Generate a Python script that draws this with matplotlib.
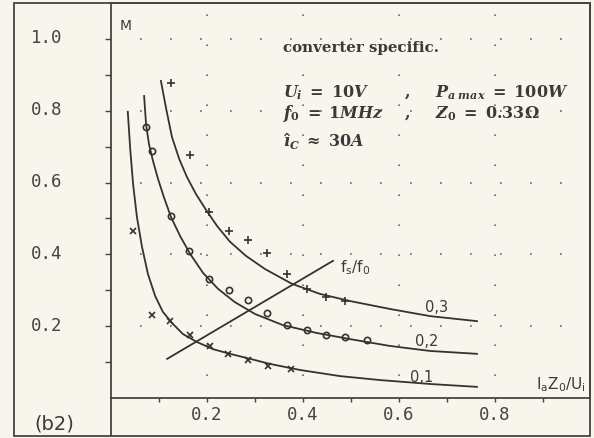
import numpy as np
import matplotlib
matplotlib.use("Agg")
import matplotlib.pyplot as plt
from matplotlib.patches import Rectangle
from matplotlib.lines import Line2D
from matplotlib.transforms import ScaledTranslation

plt.rcParams['mathtext.fontset'] = 'custom'
plt.rcParams['mathtext.rm'] = 'DejaVu Serif:bold'
plt.rcParams['mathtext.it'] = 'DejaVu Serif:bold:italic'
plt.rcParams['mathtext.bf'] = 'DejaVu Serif:bold'
plt.rcParams['lines.scale_dashes'] = False

# M vs IaZ0/Ui for fs/f0 = 0.1, 0.2, 0.3
c01_x = [0.035, 0.040, 0.046, 0.054, 0.0646, 0.077, 0.092, 0.108, 0.127, 0.150, 0.179, 0.2125,
         0.248, 0.290, 0.331, 0.394, 0.477, 0.560, 0.665, 0.7625]
c01_y = [0.797, 0.694, 0.596, 0.504, 0.421, 0.345, 0.284, 0.240, 0.209, 0.178, 0.156, 0.136,
         0.123, 0.109, 0.095, 0.078, 0.061, 0.050, 0.039, 0.031]

c02_x = [0.069, 0.073, 0.079, 0.0875, 0.098, 0.110, 0.125, 0.144, 0.165, 0.192, 0.223, 0.258,
         0.300, 0.358, 0.429, 0.498, 0.581, 0.665, 0.7625]
c02_y = [0.841, 0.763, 0.708, 0.660, 0.610, 0.560, 0.504, 0.451, 0.401, 0.348, 0.304, 0.267,
         0.234, 0.203, 0.181, 0.164, 0.145, 0.131, 0.123]

c03_x = [0.104, 0.115, 0.127, 0.142, 0.158, 0.177, 0.198, 0.221, 0.248, 0.281, 0.321, 0.377,
         0.435, 0.498, 0.581, 0.665, 0.7625]
c03_y = [0.883, 0.805, 0.727, 0.666, 0.616, 0.568, 0.524, 0.479, 0.435, 0.396, 0.359, 0.318,
         0.290, 0.270, 0.248, 0.228, 0.214]

# measured points
m01_x = [0.046, 0.085, 0.123, 0.165, 0.206, 0.244, 0.285, 0.327, 0.375]
m01_y = [0.465, 0.231, 0.214, 0.175, 0.145, 0.123, 0.106, 0.089, 0.081]

m02_x = [0.073, 0.085, 0.125, 0.1625, 0.204, 0.246, 0.285, 0.325, 0.367, 0.408, 0.448, 0.4875, 0.533]
m02_y = [0.755, 0.688, 0.507, 0.409, 0.331, 0.301, 0.273, 0.237, 0.203, 0.189, 0.175, 0.170, 0.162]

m03_x = [0.125, 0.165, 0.204, 0.246, 0.285, 0.325, 0.367, 0.408, 0.448, 0.4875]
m03_y = [0.877, 0.677, 0.518, 0.465, 0.440, 0.404, 0.345, 0.304, 0.281, 0.270]

# direction of increasing fs/f0
fs_x = [0.117, 0.4625]
fs_y = [0.109, 0.382]

curve_labels = ["0,1", "0,2", "0,3"]
curve_label_pos = [(0.648, 0.061), (0.658, 0.159), (0.679, 0.256)]

x_major = [0.2, 0.4, 0.6, 0.8]
x_minor = [0.1, 0.3, 0.5, 0.7, 0.9]
y_major = [0.2, 0.4, 0.6, 0.8, 1.0]
y_minor = [0.1, 0.3, 0.5, 0.7, 0.9]
x_labels = ["0.2", "0.4", "0.6", "0.8"]
y_labels = ["0.2", "0.4", "0.6", "0.8", "1.0"]

bg = '#f7f5ec'
ink = '#3a3a3a'
W, H = 594, 439

fig = plt.figure(figsize=(W / 100, H / 100), dpi=100, facecolor=bg)
ax = fig.add_axes([111 / W, 1 - 399 / H, (590 - 111) / W, (399 - 4) / H])
ax.set_facecolor(bg)
ax.set_xlim(0, 0.998)
ax.set_ylim(0, 1.10)

for s in ax.spines.values():
    s.set_color('#444444')
    s.set_linewidth(1.3)

# outer frame of the panel
fig.add_artist(Rectangle((14 / W, 1 - 437 / H), (590 - 14) / W, (437 - 4) / H,
                         transform=fig.transFigure, fill=False,
                         edgecolor='#444444', linewidth=1.3))
fig.add_artist(Line2D([111 / W, 111 / W], [1 - 437 / H, 1 - 399 / H],
                      transform=fig.transFigure, color='#444444', linewidth=1.3))

# dotted grid
ax.xaxis.grid(True, which='major', color='#707070', linewidth=1.3, linestyle=(5.8, (1.2, 20.4)))
ax.yaxis.grid(True, which='major', color='#707070', linewidth=1.3, linestyle=(0.7, (1.2, 20.4)))
ax.set_axisbelow(True)

ax.set_xticks(x_major)
ax.set_xticks(x_minor, minor=True)
ax.set_xticklabels(x_labels, fontfamily='DejaVu Sans Mono', fontsize=12.5, color='#444444')
ax.set_yticks(y_major)
ax.set_yticks(y_minor, minor=True)
ax.set_yticklabels(y_labels, fontfamily='DejaVu Sans Mono', fontsize=12.5, color='#444444')
ax.tick_params(axis='x', which='both', direction='out', length=3, width=1, color='#444444', pad=2)
ax.tick_params(axis='y', which='both', direction='out', length=4, width=1, color='#444444', pad=31)
for lab in ax.get_yticklabels():
    lab.set_transform(lab.get_transform() + ScaledTranslation(0, 0.035, fig.dpi_scale_trans))

line_kw = dict(color='#333333', linewidth=1.3, solid_joinstyle='round')
ax.plot(c01_x, c01_y, **line_kw)
ax.plot(c02_x, c02_y, **line_kw)
ax.plot(c03_x, c03_y, **line_kw)
ax.plot(fs_x, fs_y, **line_kw)

ax.plot(m01_x, m01_y, 'x', color='#333333', markersize=5, markeredgewidth=1.2)
ax.plot(m02_x, m02_y, 'o', color='#333333', markerfacecolor='none', markersize=4.5, markeredgewidth=1.2)
ax.plot(m03_x, m03_y, '+', color='#333333', markersize=6, markeredgewidth=1.2)

for lab, (lx, ly) in zip(curve_labels, curve_label_pos):
    ax.text(lx, ly, lab, fontsize=10.5, color=ink, ha='center', va='center')

ax.text(0.477, 0.365, r'$\mathregular{f_s/f_0}$', fontsize=11, color=ink, ha='left', va='center')
ax.text(0.99, 0.040, r'$\mathregular{I_aZ_0/U_i}$', fontsize=11, color=ink, ha='right', va='center')
ax.text(0.017, 1.04, 'M', fontsize=10, color=ink, ha='left', va='center')

# converter data
tx = 0.358
ax.text(tx, 0.967, 'converter specific.', fontfamily='DejaVu Serif', fontweight='bold',
        fontsize=10.8, color=ink, ha='left', va='baseline')
ax.text(tx, 0.841, r'$U_i \;=\; 10V$', fontsize=11.5, color=ink, va='baseline')
ax.text(0.6125, 0.841, ',', fontfamily='DejaVu Serif', fontweight='bold', fontsize=11.5, color=ink, va='baseline')
ax.text(0.675, 0.841, r'$P_{a\;max} \;=\; 100W$', fontsize=11.5, color=ink, va='baseline')
ax.text(tx, 0.783, r'$f_0 \;=\; 1MHz$', fontsize=11.5, color=ink, va='baseline')
ax.text(0.6125, 0.783, ',', fontfamily='DejaVu Serif', fontweight='bold', fontsize=11.5, color=ink, va='baseline')
ax.text(0.675, 0.783, r'$Z_0 \;=\; 0.33\Omega$', fontsize=11.5, color=ink, va='baseline')
ax.text(tx, 0.702, r'$\hat{\imath}_C \;\approx\; 30A$', fontsize=11.5, color=ink, va='baseline')

fig.text(54 / W, 1 - 424 / H, '(b2)', fontsize=14, color=ink, ha='center', va='center')

fig.savefig('out.png', dpi=100, facecolor=bg)
